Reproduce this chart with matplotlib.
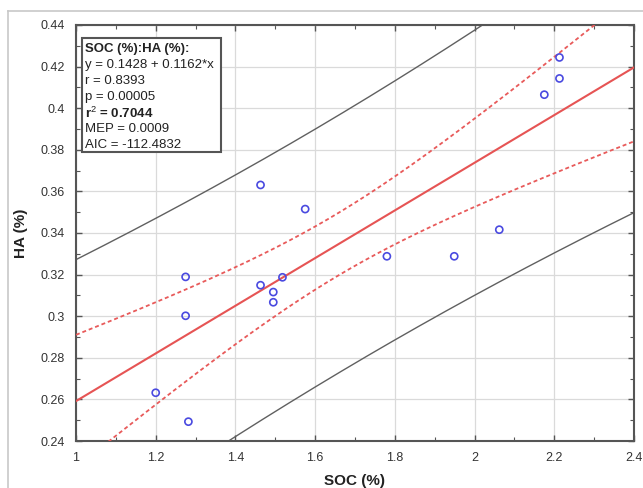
import numpy as np
import matplotlib
matplotlib.use("Agg")
import matplotlib.pyplot as plt
from matplotlib.patches import Rectangle
from matplotlib.lines import Line2D

# ---- data ----
soc = [1.200, 1.282, 1.275, 1.275, 1.463, 1.463, 1.495, 1.495, 1.518, 1.575,
       1.780, 1.949, 2.062, 2.175, 2.213, 2.213]
ha = [0.2632, 0.2493, 0.3002, 0.3189, 0.3631, 0.3149, 0.3116, 0.3067, 0.3187, 0.3515,
      0.3288, 0.3288, 0.3416, 0.4065, 0.4244, 0.4143]
x_ticks = [1.0, 1.2, 1.4, 1.6, 1.8, 2.0, 2.2, 2.4]
x_ticklabels = ["1", "1.2", "1.4", "1.6", "1.8", "2", "2.2", "2.4"]
y_ticks = [0.24, 0.26, 0.28, 0.30, 0.32, 0.34, 0.36, 0.38, 0.40, 0.42, 0.44]
y_ticklabels = ["0.24", "0.26", "0.28", "0.3", "0.32", "0.34", "0.36", "0.38", "0.4", "0.42", "0.44"]
stats_lines = ["SOC (%):HA (%):", "y = 0.1428 + 0.1162*x", "r = 0.8393", "p = 0.00005",
               "r$^2$ = 0.7044", "MEP = 0.0009", "AIC = -112.4832"]
stats_bold = [True, False, False, False, True, False, False]
t_crit = 2.1448  # t(0.975, df=14)

plt.rcParams['font.family'] = ['Liberation Sans', 'DejaVu Sans']
plt.rcParams['mathtext.fontset'] = 'custom'
plt.rcParams['mathtext.rm'] = 'Liberation Sans'
plt.rcParams['mathtext.bf'] = 'Liberation Sans:bold'

W, H = 643, 488
fig = plt.figure(figsize=(W / 100, H / 100), dpi=100)
fig.patch.set_facecolor("white")

# outer frame lines (left and top)
fig.add_artist(Line2D([8 / W, 8 / W], [0, 1 - 11 / H], transform=fig.transFigure,
                      color="#c8c8c8", lw=1.2))
fig.add_artist(Line2D([8 / W, 1], [1 - 11 / H, 1 - 11 / H], transform=fig.transFigure,
                      color="#c8c8c8", lw=1.2))

ax = fig.add_axes([76 / W, 1 - 441 / H, (634 - 76) / W, (441 - 25) / H])

x = np.array(soc)
y = np.array(ha)
n = len(x)
b, a = np.polyfit(x, y, 1)
xs = np.linspace(1.0, 2.4, 300)
yfit = a + b * xs
resid = y - (a + b * x)
s = np.sqrt(np.sum(resid ** 2) / (n - 2))
xm = x.mean()
sxx = np.sum((x - xm) ** 2)
se_mean = s * np.sqrt(1 / n + (xs - xm) ** 2 / sxx)
se_pred = s * np.sqrt(1 + 1 / n + (xs - xm) ** 2 / sxx)

ax.grid(True, which="major", color="#dadada", lw=0.9, zorder=0)
ax.plot(xs, yfit + t_crit * se_pred, color="#606060", lw=1.0, zorder=2)
ax.plot(xs, yfit - t_crit * se_pred, color="#606060", lw=1.0, zorder=2)
ax.plot(xs, yfit + t_crit * se_mean, color="#e85a5a", lw=1.3, ls=(0, (2.2, 1.6)), zorder=3)
ax.plot(xs, yfit - t_crit * se_mean, color="#e85a5a", lw=1.3, ls=(0, (2.2, 1.6)), zorder=3)
ax.plot(xs, yfit, color="#e65454", lw=1.5, zorder=3)
ax.scatter(x, y, s=26, facecolors="none", edgecolors="#4a4ae0", linewidths=1.2, zorder=4)

ax.set_xlim(1.0, 2.4)
ax.set_ylim(0.24, 0.44)
ax.set_xticks(x_ticks)
ax.set_xticklabels(x_ticklabels)
ax.set_yticks(y_ticks)
ax.set_yticklabels(y_ticklabels)
ax.set_xticks(np.arange(1.1, 2.4, 0.2), minor=True)
ax.set_yticks(np.arange(0.25, 0.44, 0.02), minor=True)
ax.tick_params(which="both", direction="in", top=True, right=True, colors="#555555",
               labelcolor="#333333", labelsize=9)
ax.tick_params(which="major", length=4, width=1.0, pad=8)
ax.tick_params(which="minor", length=3, width=0.8)
for sp in ax.spines.values():
    sp.set_color("#555555")
    sp.set_linewidth(1.5)

ax.set_xlabel("SOC (%)", fontsize=11, fontweight="bold", color="#222222", labelpad=7)
ax.set_ylabel("HA (%)", fontsize=11, fontweight="bold", color="#222222", labelpad=9)

# statistics box
AW, AH = 634 - 76, 441 - 25
bx0, by0, bx1, by1 = 82, 38, 221, 152
ax.add_patch(Rectangle(((bx0 - 76) / AW, 1 - (by1 - 25) / AH), (bx1 - bx0) / AW, (by1 - by0) / AH,
                       transform=ax.transAxes, facecolor="white", edgecolor="#555555",
                       lw=1.5, zorder=5))
for i, (line, bold) in enumerate(zip(stats_lines, stats_bold)):
    py = 49 + 16 * i
    ax.text((85 - 76) / AW, 1 - (py - 25) / AH, line, transform=ax.transAxes,
            fontsize=9.5, fontweight="bold" if bold else "normal", color="#222222",
            va="center", ha="left", zorder=6)

fig.savefig("out.png", dpi=100)
